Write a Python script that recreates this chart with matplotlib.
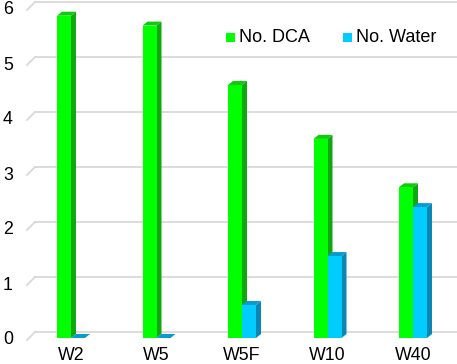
import matplotlib.pyplot as plt
from matplotlib.patches import Polygon

plt.rcParams['font.family'] = ['Liberation Sans', 'DejaVu Sans']

categories = ['W2', 'W5', 'W5F', 'W10', 'W40']
dca = [5.86, 5.68, 4.60, 3.62, 2.74]
water = [0.0, 0.0, 0.60, 1.49, 2.38]
yticks = [0, 1, 2, 3, 4, 5, 6]

# pixel geometry -> data units
PX_X = 85.5   # px per category
PX_Y = 55.0   # px per unit
bw = 14 / PX_X
ddx, ddy = 5 / PX_X, 4 / PX_Y       # bar depth
base = 2 / PX_Y                      # bar bottom above floor front edge
wall_dx, wall_dy = 8 / PX_X, 8 / PX_Y

fig = plt.figure(figsize=(4.57, 3.64), dpi=100)
ax = fig.add_axes([0, 0, 1, 1])
ax.set_xlim(-71 / PX_X, (457 - 71) / PX_X)
ax.set_ylim(-(364 - 340) / PX_Y, 340 / PX_Y)
ax.axis('off')

x_left = (27 - 71) / PX_X
for v in yticks:
    ax.plot([x_left, x_left + wall_dx], [v, v + wall_dy], color='#d9d9d9', lw=1.3, zorder=1)
    ax.plot([x_left + wall_dx, ax.get_xlim()[1]], [v + wall_dy, v + wall_dy],
            color='#d9d9d9', lw=1.3, zorder=1)
    ax.text((8 - 71) / PX_X, v, str(v), ha='center', va='center', fontsize=12.8)


def bar3d(x0, h, front, side, top, z):
    y0, y1 = base, base + h
    ax.add_patch(Polygon([(x0 + bw, y0), (x0 + bw + ddx, y0 + ddy),
                          (x0 + bw + ddx, y1 + ddy), (x0 + bw, y1)],
                         closed=True, fc=side, ec='none', zorder=z))
    ax.add_patch(Polygon([(x0, y1), (x0 + ddx, y1 + ddy),
                          (x0 + bw + ddx, y1 + ddy), (x0 + bw, y1)],
                         closed=True, fc=top, ec='none', zorder=z))
    if h > 0:
        ax.bar(x0, h, width=bw, bottom=y0, align='edge', color=front, zorder=z)


for i, name in enumerate(categories):
    bar3d(i - bw, dca[i], '#00ff00', '#10a810', '#0ccc0c', 2 + i * 0.1)
    bar3d(i, water[i], '#00ccff', '#0a86b4', '#079bd0', 2.05 + i * 0.1)
    ax.text(i, (340 - 355) / PX_Y, name, ha='center', va='center', fontsize=12.8)

# legend
for lx, col, lab in [(226, '#00ff00', 'No. DCA'), (343, '#00ccff', 'No. Water')]:
    ax.add_patch(plt.Rectangle(((lx - 71) / PX_X, (340 - 42) / PX_Y), 9 / PX_X, 9 / PX_Y,
                               fc=col, ec='none', zorder=5))
    ax.text((lx + 13 - 71) / PX_X, (340 - 38) / PX_Y, lab, ha='left', va='center',
            fontsize=13, zorder=5)

fig.savefig('out.png', dpi=100)
